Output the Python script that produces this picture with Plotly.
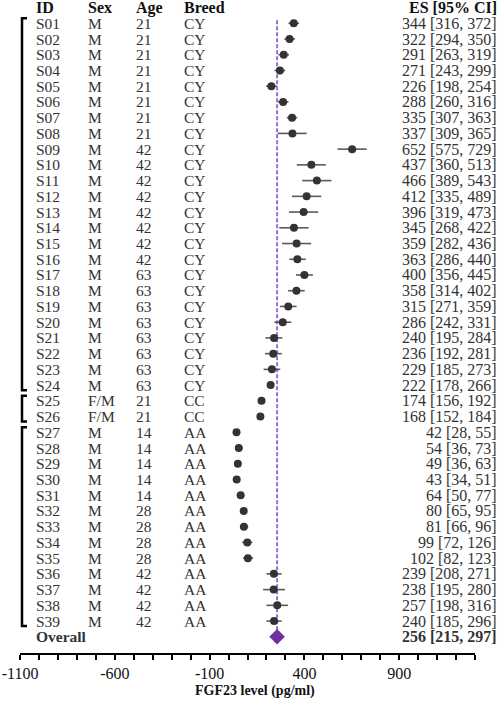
import plotly.graph_objects as go

# ---------------- data ----------------
ids = ["S01","S02","S03","S04","S05","S06","S07","S08","S09","S10",
       "S11","S12","S13","S14","S15","S16","S17","S18","S19","S20",
       "S21","S22","S23","S24","S25","S26","S27","S28","S29","S30",
       "S31","S32","S33","S34","S35","S36","S37","S38","S39"]
sex = ["M"]*24 + ["F/M"]*2 + ["M"]*13
age = [21]*8 + [42]*8 + [63]*8 + [21, 21] + [14]*5 + [28]*4 + [42]*4
breed = ["CY"]*24 + ["CC"]*2 + ["AA"]*13
es = [344,322,291,271,226,288,335,337,652,437,466,412,396,345,359,363,400,358,315,286,
      240,236,229,222,174,168,42,54,49,43,64,80,81,99,102,239,238,257,240]
ci_lo = [316,294,263,243,198,260,307,309,575,360,389,335,319,268,282,286,356,314,271,242,
         195,192,185,178,156,152,28,36,36,34,50,65,66,72,82,208,195,198,185]
ci_hi = [372,350,319,299,254,316,363,365,729,513,543,489,473,422,436,440,445,402,359,331,
         284,281,273,266,192,184,55,73,63,51,77,95,96,126,123,271,280,316,296]
# whisker extents as drawn in the picture
bar_lo = [316,294,263,243,198,260,307,260,575,360,389,335,319,268,282,321,356,314,271,242,
          195,192,185,210,156,152,28,36,36,34,50,65,60,72,76,200,182,200,200]
bar_hi = [372,350,319,299,254,316,363,412,729,513,543,489,473,422,436,407,445,402,359,331,
          284,281,273,234,192,184,55,73,63,51,77,95,104,126,130,280,298,314,280]
groups = [(1, 24), (25, 26), (27, 39)]
overall_es, overall_lo, overall_hi = 256, 215, 297
headers = ["ID", "Sex", "Age", "Breed", "ES [95% CI]"]
tick_vals = list(range(-1100, 1301, 100))
tick_labels = [str(v) if (v + 1100) % 500 == 0 else "" for v in tick_vals]
x_title = "FGF23 level (pg/ml)"

FONT = "Liberation Serif, Times New Roman, serif"
TXT = "#333333"
FS = 15.5
rows = list(range(1, len(ids) + 1))
overall_row = len(ids) + 1

fig = go.Figure()

# reference line
fig.add_shape(type="line", x0=overall_es, x1=overall_es, y0=0.8, y1=overall_row,
              xref="x", yref="y", line=dict(color="#9B6FD0", width=2, dash="4px,2px"),
              layer="below")

# point estimates with whiskers
fig.add_trace(go.Scatter(
    x=es, y=rows, mode="markers",
    marker=dict(size=8, color="#333333"),
    error_x=dict(type="data", symmetric=False,
                 array=[h - e for h, e in zip(bar_hi, es)],
                 arrayminus=[e - l for e, l in zip(es, bar_lo)],
                 width=0, thickness=1.6, color="#5a5a5a"),
    showlegend=False, hoverinfo="skip"))

# overall diamond
fig.add_trace(go.Scatter(
    x=[overall_es], y=[overall_row], mode="markers",
    marker=dict(symbol="diamond", size=12, color="#7030A0"),
    showlegend=False, hoverinfo="skip"))

# ---------------- text columns ----------------
L = 20; W = 455
def px(p):
    return (p - L) / W

col_x = [px(34), px(86), px(134), px(182)]
es_x = px(499)
ann = []
for j, h in enumerate(headers[:4]):
    ann.append(dict(x=col_x[j], y=0, xref="paper", yref="y", text="<b>%s</b>" % h,
                    xanchor="left", yanchor="middle", showarrow=False,
                    font=dict(family=FONT, size=16, color="#111111")))
ann.append(dict(x=es_x, y=0, xref="paper", yref="y", text="<b>%s</b>" % headers[4],
                xanchor="right", yanchor="middle", showarrow=False,
                font=dict(family=FONT, size=16, color="#111111")))
for i, r in enumerate(rows):
    vals = [ids[i], sex[i], str(age[i]), breed[i]]
    for j, v in enumerate(vals):
        ann.append(dict(x=col_x[j], y=r, xref="paper", yref="y", text=v,
                        xanchor="left", yanchor="middle", showarrow=False,
                        font=dict(family=FONT, size=FS, color=TXT)))
    ann.append(dict(x=es_x, y=r, xref="paper", yref="y",
                    text="%d [%d, %d]" % (es[i], ci_lo[i], ci_hi[i]),
                    xanchor="right", yanchor="middle", showarrow=False,
                    font=dict(family=FONT, size=16, color=TXT)))
ann.append(dict(x=col_x[0], y=overall_row, xref="paper", yref="y", text="<b>Overall</b>",
                xanchor="left", yanchor="middle", showarrow=False,
                font=dict(family=FONT, size=FS, color=TXT)))
ann.append(dict(x=es_x, y=overall_row, xref="paper", yref="y",
                text="<b>%d [%d, %d]</b>" % (overall_es, overall_lo, overall_hi),
                xanchor="right", yanchor="middle", showarrow=False,
                font=dict(family=FONT, size=16, color=TXT)))
ann.append(dict(x=px(255), y=(653 - 691) / 653, xref="paper", yref="paper",
                text="<b>%s</b>" % x_title, xanchor="center", yanchor="middle",
                showarrow=False, font=dict(family=FONT, size=14, color="#111111")))

# group brackets
bx0, bx1 = px(22), px(27)
for a, b in groups:
    y0, y1 = a - 0.32, b + 0.32
    path = "M %f,%f L %f,%f L %f,%f L %f,%f" % (bx1, y0, bx0, y0, bx0, y1, bx1, y1)
    fig.add_shape(type="path", path=path, xref="paper", yref="y",
                  line=dict(color="black", width=2.5))

fig.update_layout(
    width=498, height=702,
    margin=dict(l=L, r=498 - L - W, t=0, b=49),
    paper_bgcolor="white", plot_bgcolor="white",
    annotations=ann,
    xaxis=dict(range=[-1100, 1300], showgrid=False, zeroline=False,
               showline=True, linecolor="black", linewidth=2,
               ticks="outside", ticklen=5, tickwidth=1.5, tickcolor="black",
               tickvals=tick_vals, ticktext=tick_labels,
               tickfont=dict(family=FONT, size=16, color="#111111")),
    yaxis=dict(visible=False, range=[41.03, -0.481]),
)

fig.write_html("out.html", config={"displayModeBar": False},
               post_script="document.body.style.margin='0';document.body.style.overflow='hidden';")
